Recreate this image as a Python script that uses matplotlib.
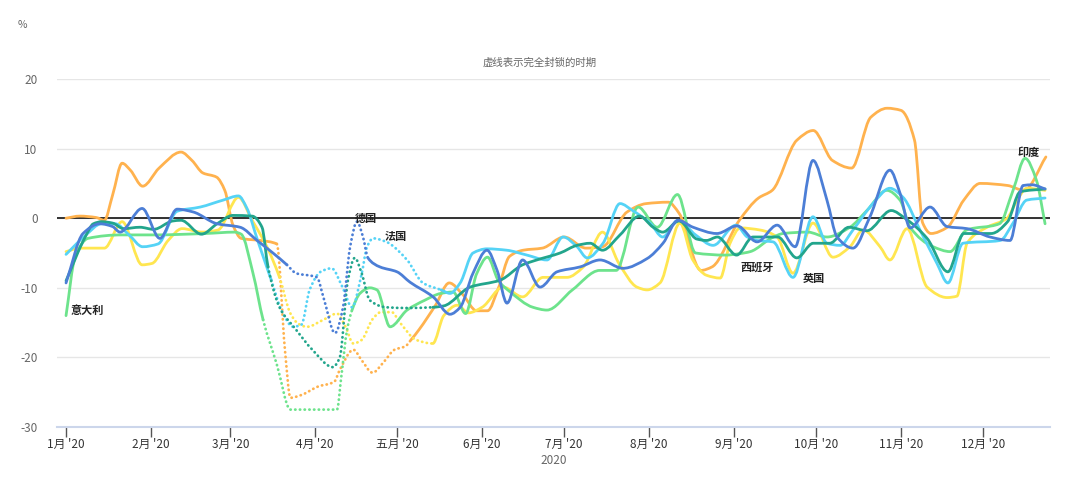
# 各国经济活动变化（2020），虚线为完全封锁期
import matplotlib
matplotlib.use('Agg')
import matplotlib.pyplot as plt
from matplotlib.path import Path
from matplotlib.patches import PathPatch
import numpy as np

plt.rcParams['font.family'] = ['Noto Sans CJK SC', 'DejaVu Sans']

# 月份刻度（2020-01-01 起的天数）
month_days = [0, 31, 60, 91, 121, 152, 182, 213, 244, 274, 305, 335]
month_labels = ["1月 '20", "2月 '20", "3月 '20", "4月 '20", "五月 '20", "6月 '20",
                "7月 '20", "8月 '20", "9月 '20", "10月 '20", "11月 '20", "12月 '20"]

# 橙色
orange_x = [0, 5, 11, 14, 17, 20.5, 23.5, 28, 34, 42, 46, 50, 55, 58, 61, 64, 71, 77, 80, 82,
            86, 92, 98, 100, 105, 108, 112, 116, 120, 124, 126, 129, 135, 140, 145, 150, 154, 158, 162, 167,
            174, 182, 190, 196, 205, 212, 220, 224, 232, 236, 246, 253, 258, 267, 273, 280, 287, 294, 300, 305,
            310, 313, 316, 322, 328, 334, 344, 350, 358]
orange_y = [0, 0.3, 0.1, -0.3, 3.3, 7.9, 6.9, 4.6, 7.2, 9.5, 8.3, 6.5, 5.9, 4.0, -1.0, -2.9, -3.2, -3.7, -19, -25.8,
            -25.4, -24.2, -23.5, -21.8, -18.9, -20.4, -22.2, -20.7, -18.9, -18.4, -17.5, -16, -12.5, -9.3, -11, -13.3, -13.3, -10, -5.5, -4.6,
            -4.3, -2.7, -4.3, -4.1, 0.9, 2.1, 2.3, 0.7, -7.5, -7, -0.3, 2.9, 4, 11.2, 12.6, 8.3, 7.2, 14.5, 15.8, 15.5,
            11.2, -0.7, -2.2, -1.3, 2.6, 5, 4.7, 4, 8.8]
orange_lock = (77, 126)

# 黄色
yellow_x = [0, 5, 14, 20.5, 27.8, 31.4, 37.3, 42.4, 49.7, 55.5, 63, 68, 73.4, 78, 82, 85, 88, 94, 99, 102,
            105, 108, 112, 115, 119, 122, 128, 134, 138, 143, 147, 152, 159.7, 166.8, 174.3, 183, 189, 196, 202, 208.6,
            212.3, 217, 224.3, 229, 234, 239, 242.6, 246.3, 253.6, 259.8, 265.6, 272.9, 280.2, 286.4, 291.2, 297.4, 301, 307.3, 314.6, 321.9,
            325.5, 329.2, 336.5, 343.8, 347.5, 351, 357.7]
yellow_y = [-4.8, -4.3, -4.3, -0.5, -6.7, -6.5, -3.2, -1.5, -2.0, -1.7, 3.0, -0.3, -4.1, -8.5, -13.7, -15.2, -15.6, -14.6, -13.7, -15.5,
            -18, -17.5, -14.5, -13.5, -13.5, -15, -17.5, -18, -14, -12.5, -13.6, -12.8, -9.9, -11.3, -8.5, -8.5, -7, -2, -6.5, -9.9,
            -10.3, -9.3, -0.7, -6, -8.2, -8.6, -3.6, -1.4, -1.7, -2.7, -7.9, -0.7, -5.6, -4.1, -1.7, -4.1, -6, -1.5, -9.9, -11.4,
            -11.2, -3.6, -1.3, 0, 2.6, 4.3, 4.0]
yellow_lock = (78, 134)

# 浅绿
green_x = [0, 3.3, 8, 20.5, 32.5, 50.8, 61.7, 64, 68.3, 72, 77, 82, 88, 99, 100.5, 102.7, 104.5, 107.4, 111, 113.6,
           118.4, 124.6, 131, 137, 141.4, 146, 150, 154, 158, 162, 170.6, 175.7, 185, 195, 201, 209, 216, 223.4, 230, 241,
           246, 250, 258, 262, 271, 278, 286.4, 292.6, 299.9, 304.7, 308.4, 316.8, 323, 329, 341, 346, 350.4, 354.5, 357.7]
green_y = [-14, -5.6, -2.9, -2.4, -2.4, -2.2, -2.0, -2.3, -7.9, -14.6, -21, -27.5, -27.5, -27.5, -23, -16, -13.2, -10.8, -10, -10.3,
           -15.6, -13.2, -11.8, -10.8, -10.6, -13.7, -8, -5.6, -9, -10.5, -12.8, -13.2, -10.3, -7.5, -7.5, 1.6, -1.3, 3.4, -5, -5.3,
           -5.1, -4.8, -2.8, -2.2, -2.0, -2.7, -1.3, 1.1, 4.0, 2.6, -1.3, -4.1, -4.8, -1.7, -0.8, 4.0, 8.6, 5.5, -0.8]
green_lock = (72, 104.5)

# 墨绿
teal_x = [0, 7, 10, 13, 17, 21, 27, 32, 39, 42, 49.5, 55.2, 61, 68, 71.6, 73.8, 78, 84, 90, 97.5,
          100, 103, 105.5, 108, 111, 117, 124.6, 134, 138, 147.6, 158.6, 166.8, 172, 180.5, 186.7, 191.5, 196, 202.4, 209.5, 214.5,
          218, 224, 230.5, 234, 238, 245, 251, 260, 267, 273, 279, 286, 292.6, 301.5, 306.5, 314.6, 322.2, 328, 338, 344,
          348.6, 357.7]
teal_y = [-9, -2.7, -0.8, -0.5, -0.7, -1.5, -1.3, -1.6, -0.4, -0.3, -2.3, -0.8, 0.4, 0.3, -1.3, -7, -12.8, -16, -18.9, -21.4,
          -20, -8.9, -5.7, -7.9, -11.8, -12.8, -12.9, -12.8, -12.6, -9.9, -8.9, -6.7, -6, -5, -3.9, -3.6, -4.6, -2.4, 0.3, -1.3,
          -2, -0.4, -3, -3.2, -2.7, -5.3, -2.7, -2.7, -5.7, -3.6, -3.6, -1.3, -1.8, 1.1, 0, -2.9, -7.7, -2.2, -2.2, -0.5,
          3.8, 4.2]
teal_lock = (73.8, 134)

# 浅蓝
cyan_x = [0, 7, 13, 18, 23, 28, 33.6, 40.6, 49, 57.4, 63, 66, 70, 75, 79, 83, 86, 89, 93, 97,
          101, 104.5, 108, 110, 112.2, 117, 124.6, 130.4, 137, 140.3, 144, 148.7, 153.8, 161, 168.4, 175.7, 181.6, 186.7, 190.4, 196.2,
          202.4, 207, 213.4, 218, 223.6, 230, 236.4, 244.8, 248.9, 252.5, 258.3, 265.6, 272.9, 278, 282.8, 287.5, 294.8, 301, 305.8, 312,
          318.2, 322.2, 327.7, 341.3, 346, 351, 357.7]
cyan_y = [-5.2, -2.5, -0.8, -0.8, -2.4, -4.1, -3.7, 1.0, 1.6, 2.6, 3.2, 1.5, -3.2, -8.9, -13.5, -15.6, -15.3, -10.3, -7.7, -7.2,
          -9.9, -12.8, -8, -4.1, -2.9, -3.4, -6, -9.3, -10.3, -10.8, -9.3, -5, -4.4, -4.6, -5.3, -6, -2.7, -4.1, -5.7, -3.6,
          2.1, 1.1, -0.7, -2.7, -0.3, -2.4, -3.9, -1.0, -2.7, -3.2, -3.4, -8.5, 0.2, -3.6, -3.9, -1.7, 2.1, 4.3, 3.0, -1.7,
          -6.5, -9.3, -3.6, -3.2, -0.7, 2.6, 2.9]
cyan_lock = (75, 137)

# 蓝色
blue_x = [0, 6.2, 12.4, 17, 19.7, 27.8, 34.3, 40.6, 46.4, 55.2, 63.6, 69.8, 75.6, 80.7, 84, 91.7, 94, 98.3, 101.2, 103.8,
          106.3, 108.5, 110.3, 114.7, 120.9, 125.7, 134.1, 140.3, 144, 148.7, 153.8, 157.5, 161.1, 166.8, 173.2, 179.4, 187.8, 195.1, 203.5, 212.3,
          218.1, 223.6, 229.1, 237.8, 245.2, 252.5, 259.8, 266.4, 272.9, 278, 281.7, 287.5, 293.7, 301, 304.7, 308.4, 315.7, 321.9, 329.2, 337.6,
          344.9, 349.7, 353, 357.7]
blue_y = [-9.3, -2.2, -0.8, -1.2, -2, 1.4, -2.9, 1.3, 0.9, -0.8, -1.3, -3.2, -5, -6.7, -7.9, -8.5, -11.3, -16.5, -12.8, -4.1,
          -0.5, -2.7, -5.7, -7, -7.7, -9.2, -11.3, -13.8, -12.8, -7.9, -4.6, -7.5, -12.2, -6, -9.9, -7.7, -7, -6, -7.2, -5.8,
          -3.6, -0.3, -1.3, -2.2, -1.1, -3.4, -1, -4.1, 8.3, 2.6, -2.7, -4.3, 0.2, 6.9, 3.6, -1.4, 1.6, -1.2, -1.5, -2.7,
          -3.2, 4.7, 4.8, 4.2]
blue_lock = (80.7, 110.3)

series = [
    (orange_x, orange_y, orange_lock, '#FFB24E'),
    (yellow_x, yellow_y, yellow_lock, '#FFE650'),
    (green_x, green_y, green_lock, '#6DE38C'),
    (cyan_x, cyan_y, cyan_lock, '#55D3F6'),
    (teal_x, teal_y, teal_lock, '#22A58C'),
    (blue_x, blue_y, blue_lock, '#4C7ED6'),
]

# 国家标签
label_text = ['意大利', '德国', '法国', '西班牙', '英国', '印度']
label_x = [1.5, 105.6, 116.5, 246.3, 269.3, 347.5]
label_y = [-13.3, 0, -2.6, -7.0, -8.6, 9.5]


def smooth_paths(xs, ys, lo, hi):
    """单调三次贝塞尔曲线，分成实线段和虚线段两条路径"""
    x = np.asarray(xs, float)
    y = np.asarray(ys, float)
    h = np.diff(x)
    d = np.diff(y) / h
    m = np.zeros_like(y)
    m[0], m[-1] = d[0], d[-1]
    for i in range(1, len(x) - 1):
        if d[i - 1] * d[i] <= 0:
            m[i] = 0
        else:
            w1 = 2 * h[i] + h[i - 1]
            w2 = h[i] + 2 * h[i - 1]
            m[i] = (w1 + w2) / (w1 / d[i - 1] + w2 / d[i])
    parts = {True: ([], []), False: ([], [])}
    prev = None
    for i in range(len(x) - 1):
        dotted = x[i] >= lo and x[i + 1] <= hi
        verts, codes = parts[dotted]
        if prev != dotted:
            verts.append((x[i], y[i]))
            codes.append(Path.MOVETO)
        c1 = (x[i] + h[i] / 3, y[i] + m[i] * h[i] / 3)
        c2 = (x[i + 1] - h[i] / 3, y[i + 1] - m[i + 1] * h[i] / 3)
        verts += [c1, c2, (x[i + 1], y[i + 1])]
        codes += [Path.CURVE4] * 3
        prev = dotted
    out = []
    for dotted in (False, True):
        verts, codes = parts[dotted]
        if verts:
            out.append((Path(verts, codes), dotted))
    return out


fig = plt.figure(figsize=(10.8, 4.78), dpi=100)
ax = fig.add_axes([57 / 1080, 1 - 427 / 478, (1050 - 57) / 1080, (427 - 79) / 478])

for z, (xs, ys, lock, color) in enumerate(series):
    for path, dotted in smooth_paths(xs, ys, *lock):
        ls = (0, (0.1, 1.6)) if dotted else '-'
        ax.add_patch(PathPatch(path, fill=False, edgecolor=color, lw=2.0,
                               linestyle=ls, capstyle='round', joinstyle='round', zorder=3 + z))

ax.axhline(0, color='#222222', lw=1.3, zorder=2)

for t, lx, ly in zip(label_text, label_x, label_y):
    ax.text(lx, ly, t, fontsize=8, fontweight='bold', color='#222222',
            ha='left', va='center', zorder=20)

ax.set_xlim(-3.3, 359.5)
ax.set_ylim(-30, 20)
ax.set_yticks([-30, -20, -10, 0, 10, 20])
ax.set_yticklabels(['-30', '-20', '-10', '0', '10', '20'])
ax.set_xticks(month_days)
ax.set_xticklabels(month_labels)

ax.yaxis.grid(True, color='#e6e6e6', lw=1)
ax.set_axisbelow(True)
for s in ['top', 'right', 'left']:
    ax.spines[s].set_visible(False)
ax.spines['bottom'].set_color('#ccd6eb')
ax.spines['bottom'].set_linewidth(1.5)

ax.tick_params(axis='y', length=0, pad=14, labelcolor='#666666', labelsize=8.5)
ax.tick_params(axis='x', length=7, width=1, color='#555555', labelcolor='#333333',
               labelsize=8.5, pad=1)
ax.set_xlabel('2020', color='#666666', fontsize=8.5, labelpad=2)

fig.text(0.5, 1 - 63 / 478, '虚线表示完全封锁的时期', ha='center', va='center',
         fontsize=7.5, color='#666666')
fig.text(18 / 1080, 1 - 25 / 478, '%', ha='left', va='center', fontsize=7.5, color='#666666')

fig.savefig('out.png', dpi=100)
